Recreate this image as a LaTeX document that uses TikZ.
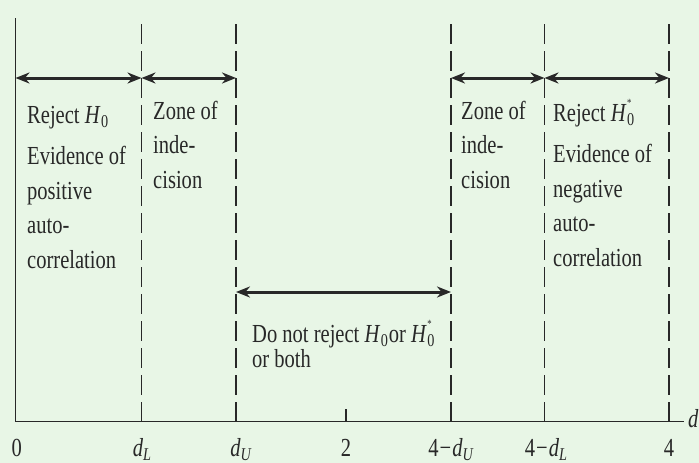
\documentclass[tikz,border=0pt]{standalone}
\usepackage{fontspec}
\setmainfont[FakeStretch=0.79]{Liberation Serif}
\usetikzlibrary{arrows.meta}
\definecolor{bgc}{RGB}{232,246,230}
\definecolor{ink}{RGB}{40,40,40}
\newcommand\lowidx[1]{\raisebox{-0.35ex}{\fontsize{18}{18}\selectfont #1}}
\newcommand\Hnull{\textit{H}\kern0.5pt\lowidx{0}}
\newcommand\Hstar{\textit{H}\kern0.5pt\rlap{\raisebox{1.25ex}{\fontsize{11}{11}\selectfont *}}\lowidx{0}}
\begin{document}
\begin{tikzpicture}[x=1pt,y=-1pt,
  vline/.style={draw=ink,line width=1.6pt},
  dline/.style={draw=ink,line width=1.6pt,dash pattern=on 20pt off 7pt},
  span/.style={draw=ink,line width=3pt,{Stealth[length=14pt,width=11pt]}-{Stealth[length=14pt,width=11pt]}},
  txt/.style={text=ink,inner sep=0pt,font=\fontsize{26}{34.5}\selectfont,align=left,anchor=base west},
  lab/.style={text=ink,inner sep=0pt,font=\fontsize{26}{26}\selectfont,anchor=base}]
\fill[bgc] (0,0) rectangle (699,463);
\clip (0,0) rectangle (699,463);
\useasboundingbox (0,0) rectangle (699,463);
% line positions
\coordinate (o-top) at (15.5,18);
\coordinate (o-bot) at (15.5,421.5);
\coordinate (dL-top) at (141.5,18);
\coordinate (dL-bot) at (141.5,421.5);
\coordinate (dU-top) at (236,18);
\coordinate (dU-bot) at (236,421.5);
\coordinate (eU-top) at (451,18);
\coordinate (eU-bot) at (451,421.5);
\coordinate (eL-top) at (544.5,18);
\coordinate (eL-bot) at (544.5,421.5);
\coordinate (f-top) at (669,18);
\coordinate (f-bot) at (669,421.5);
\coordinate (ax-end) at (684,421.5);
\coordinate (two-top) at (346,409);
\coordinate (two-bot) at (346,421.5);
% verticals and axis
\draw[vline] (o-top) -- (o-bot) -- (ax-end);
\draw[vline] (two-bot) -- (two-top);
\draw[dline] (dL-bot) -- (dL-top);
\draw[dline] (dU-bot) -- (dU-top);
\draw[dline] (eU-bot) -- (eU-top);
\draw[dline] (eL-bot) -- (eL-top);
\draw[dline] (f-bot) -- (f-top);
% arrow anchors
\coordinate (a0) at (15.5,78);
\coordinate (a1) at (141.5,78);
\coordinate (a2) at (236,78);
\coordinate (a3) at (451,78);
\coordinate (a4) at (544.5,78);
\coordinate (a5) at (669,78);
\coordinate (b1) at (236,292);
\coordinate (b2) at (451,292);
\draw[span] (a0) -- (a1);
\draw[span] (a1) -- (a2);
\draw[span] (a3) -- (a4);
\draw[span] (a4) -- (a5);
\draw[span] (b1) -- (b2);
% texts (anchor = baseline of the last line)
\node[txt] (rejL) at (27,268) {Reject \Hnull\\[7pt]Evidence of\\positive\\auto-\\correlation};
\node[txt] (zoneL) at (153,188) {Zone of\\inde-\\cision};
\node[txt] (zoneR) at (461,188) {Zone of\\inde-\\cision};
\node[txt] (rejR) at (553,266) {Reject \Hstar\\[7pt]Evidence of\\negative\\auto-\\correlation};
\node[txt,font=\fontsize{26}{25}\selectfont] (dnr) at (252,367) {Do not reject \Hnull\kern1pt or \Hstar\\or both};
% axis labels
\node[lab] (l0) at (16.7,456) {0};
\node[lab] (ldL) at (142,456) {\textit{d}\lowidx{\textit{L}}};
\node[lab] (ldU) at (241,456) {\textit{d}\lowidx{\textit{U}}};
\node[lab] (l2) at (346,456) {2};
\node[lab] (l4dU) at (451,456) {4\kern1pt−\kern1pt\textit{d}\lowidx{\textit{U}}};
\node[lab] (l4dL) at (546,456) {4\kern1pt−\kern1pt\textit{d}\lowidx{\textit{L}}};
\node[lab] (l4) at (669,456) {4};
\node[lab,anchor=base west] (ld) at (688,427) {\textit{d}};
\end{tikzpicture}
\end{document}
